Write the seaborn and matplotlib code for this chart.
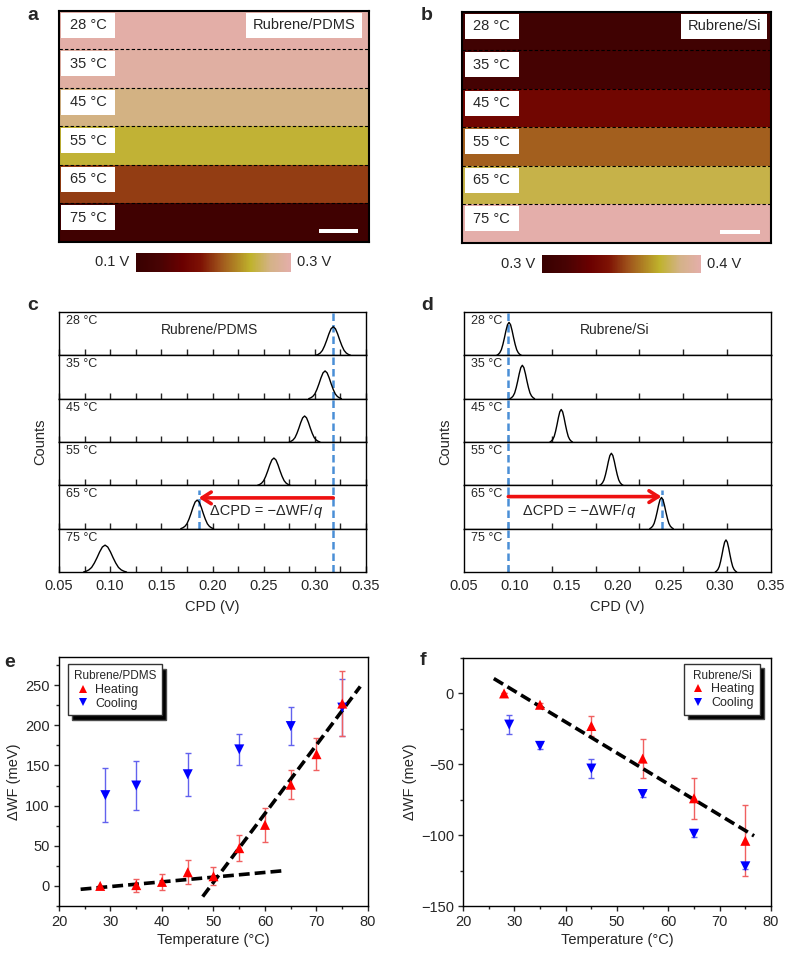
import numpy as np
import pandas as pd
import matplotlib
matplotlib.use('Agg')
import matplotlib.pyplot as plt
import seaborn as sns
from matplotlib.colors import LinearSegmentedColormap, Normalize
from matplotlib.patches import Rectangle
from matplotlib.ticker import MultipleLocator, FixedLocator
import matplotlib.cm as cm

sns.set_theme(style='white')
plt.rcParams['font.family'] = ['Liberation Sans', 'DejaVu Sans']
plt.rcParams['axes.unicode_minus'] = True

# ---------------- data ----------------
temps = ['28 °C', '35 °C', '45 °C', '55 °C', '65 °C', '75 °C']

# surface potential maps (band values, V)
map_a = [0.297, 0.293, 0.272, 0.250, 0.200, 0.115]
map_b = [0.308, 0.312, 0.334, 0.357, 0.378, 0.400]

# CPD histograms
peak_c = [0.318, 0.310, 0.290, 0.260, 0.185, 0.095]
halfw_c = [0.017, 0.016, 0.015, 0.016, 0.016, 0.021]
height_c = [0.66, 0.64, 0.60, 0.63, 0.66, 0.62]
peak_d = [0.094, 0.107, 0.145, 0.194, 0.243, 0.306]
halfw_d = [0.012, 0.012, 0.011, 0.0115, 0.0115, 0.0105]
height_d = [0.76, 0.77, 0.75, 0.74, 0.72, 0.74]
peak_profile = [0.0, 0.03, 0.08, 0.17, 0.33, 0.53, 0.75, 0.93, 1.0,
                0.93, 0.75, 0.53, 0.33, 0.17, 0.08, 0.03, 0.0]
ref_c = [0.318, 0.1865]
ref_d = [0.0933, 0.243]

# work function change, Rubrene/PDMS
heat_T_e = [28, 35, 40, 45, 50, 55, 60, 65, 70, 75]
heat_W_e = [0, 1, 5, 17, 12, 47, 76, 126, 164, 227]
heat_err_e = [0, 8, 10, 15, 11, 16, 21, 18, 20, 40]
cool_T_e = [29, 35, 45, 55, 65, 75]
cool_W_e = [113, 125, 139, 170, 199, 222]
cool_err_e = [34, 31, 27, 19, 24, 35]
fit1_T_e = [24.2, 63.9]
fit1_W_e = [-4.2, 19.1]
fit2_T_e = [47.9, 78.5]
fit2_W_e = [-13.3, 248.3]

# work function change, Rubrene/Si
heat_T_f = [28, 35, 45, 55, 65, 75]
heat_W_f = [0, -8, -23, -46, -74, -104]
heat_err_f = [0, 1.5, 7, 14, 14.5, 25]
cool_T_f = [29, 35, 45, 55, 65, 75]
cool_W_f = [-22, -37, -53, -71, -99, -122]
cool_err_f = [6.5, 2, 7, 2, 2, 2]
fit_T_f = [26.0, 76.7]
fit_W_f = [10.5, -100.5]

# ---------------- figure ----------------
W, H = 788, 955
fig = plt.figure(figsize=(W / 100, H / 100), dpi=100)


def px_axes(x0, y0, x1, y1):
    return fig.add_axes([x0 / W, 1 - y1 / H, (x1 - x0) / W, (y1 - y0) / H])


cmap = LinearSegmentedColormap.from_list('kpfm', [
    (0.00, '#380000'), (0.15, '#480303'), (0.30, '#6a0000'),
    (0.42, '#7e1204'), (0.55, '#a0561c'), (0.74, '#bfb22c'),
    (0.87, '#d4b288'), (1.00, '#e4aeaa')])

BLUE_DASH = '#4a8fd6'


def map_panel(box, vals, vmin, vmax, title, lab_x0, lab_x1, title_x0, title_x1, bar_x0, bar_x1):
    ax = px_axes(*box)
    sns.heatmap(np.array(vals).reshape(-1, 1), ax=ax, cmap=cmap, vmin=vmin, vmax=vmax,
                cbar=False, xticklabels=False, yticklabels=False)
    for s in ax.spines.values():
        s.set_visible(True)
        s.set_color('black')
        s.set_linewidth(1.5)
    for i in range(1, len(vals)):
        ax.axhline(i, color='black', ls=(0, (3, 2)), lw=0.8)
    for i, t in enumerate(temps):
        ax.add_patch(Rectangle((lab_x0, i + 0.04), lab_x1 - lab_x0, 0.66,
                               facecolor='white', edgecolor='none', zorder=3))
        ax.text((lab_x0 + lab_x1) / 2, i + 0.37, t, ha='center', va='center',
                fontsize=10.5, zorder=4)
    ax.add_patch(Rectangle((title_x0, 0.04), title_x1 - title_x0, 0.66,
                           facecolor='white', edgecolor='none', zorder=3))
    ax.text((title_x0 + title_x1) / 2, 0.37, title, ha='center', va='center',
            fontsize=10.5, zorder=4)
    ax.add_patch(Rectangle((bar_x0, 5.66), bar_x1 - bar_x0, 0.11,
                           facecolor='white', edgecolor='none', zorder=3))
    return ax


map_panel((59, 11, 369, 242), map_a, 0.1, 0.3, 'Rubrene/PDMS',
          0.006, 0.181, 0.603, 0.976, 0.84, 0.965)
map_panel((462, 12, 771, 243), map_b, 0.3, 0.4, 'Rubrene/Si',
          0.009, 0.184, 0.71, 0.987, 0.836, 0.966)


def colorbar(box, vmin, vmax, lo, hi):
    cax = px_axes(*box)
    sm = cm.ScalarMappable(norm=Normalize(vmin, vmax), cmap=cmap)
    cb = fig.colorbar(sm, cax=cax, orientation='horizontal')
    cb.set_ticks([])
    cb.outline.set_visible(False)
    yc = 1 - (box[1] + box[3]) / 2 / H
    fig.text((box[0] - 7) / W, yc, lo, ha='right', va='center', fontsize=10.5)
    fig.text((box[2] + 6) / W, yc, hi, ha='left', va='center', fontsize=10.5)


colorbar((136, 253, 291, 272), 0.1, 0.3, '0.1 V', '0.3 V')
colorbar((542, 255, 701, 273), 0.3, 0.4, '0.3 V', '0.4 V')


def hist_panel(x0, x1, peaks, halfw, heights, refs, title, minor_ticks,
               arrow_y, text_x, major_len):
    y0, y1 = 312, 572
    rh = (y1 - y0) / 6
    axes = []
    prof = np.array(peak_profile)
    offs = np.linspace(-1, 1, len(prof))
    for i, t in enumerate(temps):
        ax = px_axes(x0, y0 + i * rh, x1, y0 + (i + 1) * rh)
        df = pd.DataFrame({'CPD': peaks[i] + offs * halfw[i],
                           'Counts': prof * heights[i]})
        sns.lineplot(data=df, x='CPD', y='Counts', ax=ax, color='black', lw=1.0,
                     sort=False, estimator=None)
        ax.set_xlim(0.05, 0.35)
        ax.set_ylim(0, 1)
        ax.set_yticks([])
        ax.set_ylabel('')
        ax.xaxis.set_major_locator(MultipleLocator(0.05))
        ax.xaxis.set_minor_locator(FixedLocator(minor_ticks))
        ax.tick_params(axis='x', which='major', direction='in', length=major_len,
                       width=1, bottom=True, top=False, labelsize=10.5, pad=5,
                       labelbottom=(i == 5))
        ax.tick_params(axis='x', which='minor', direction='in', length=4,
                       width=1, bottom=True, top=False)
        ax.xaxis.set_major_formatter(plt.FuncFormatter(lambda v, p: f'{v:.2f}'))
        for s in ax.spines.values():
            s.set_color('black')
            s.set_linewidth(1.0)
        ax.axvline(refs[0], color=BLUE_DASH, ls=(0, (3, 1.6)), lw=1.8, zorder=1)
        ax.text(0.022, 0.93, t, transform=ax.transAxes, ha='left', va='top', fontsize=9)
        if i == 5:
            ax.set_xlabel('CPD (V)', fontsize=10.5, labelpad=5)
        else:
            ax.set_xlabel('')
        axes.append(ax)
    axes[0].text(0.49, 0.58, title, transform=axes[0].transAxes, ha='center',
                 va='center', fontsize=10)
    a65 = axes[4]
    a65.axvline(refs[1], ymax=0.89, color=BLUE_DASH, ls=(0, (3, 1.6)), lw=1.8, zorder=1)
    a65.annotate('', xy=(refs[1], arrow_y), xytext=(refs[0], arrow_y),
                 arrowprops=dict(arrowstyle='->,head_length=0.55,head_width=0.35',
                                 color='#ee1111', lw=2.6, shrinkA=0, shrinkB=0))
    t1 = a65.text(text_x, 0.40, 'ΔCPD = −ΔWF/', transform=a65.transAxes,
                  ha='left', va='baseline', fontsize=10.5)
    t1.set_va('center')
    a65.annotate('q', xy=(1, 0.5), xycoords=t1, ha='left', va='center',
                 fontsize=10.5, style='italic', xytext=(0.5, 0),
                 textcoords='offset points')
    fig.text((x0 - 19) / W, 1 - (y0 + y1) / 2 / H, 'Counts', rotation=90,
             ha='center', va='center', fontsize=10.5)


hist_panel(59, 366, peak_c, halfw_c, height_c, ref_c, 'Rubrene/PDMS',
           np.arange(0.075, 0.33, 0.025), 0.71, 0.493, 4)
hist_panel(464, 771, peak_d, halfw_d, height_d, ref_d, 'Rubrene/Si',
           np.linspace(0.05, 0.35, 8)[1:-1], 0.74, 0.192, 0)


def wf_panel(box, hT, hW, hE, cT, cW, cE, fits, ylim, ymaj, title, leg_loc, leg_anchor):
    ax = px_axes(*box)
    ax.errorbar(cT, cW, yerr=cE, fmt='none', ecolor='#6262ee', elinewidth=1.0,
                capsize=2.5, capthick=1.0, zorder=2)
    ax.errorbar(hT, hW, yerr=hE, fmt='none', ecolor='#f06060', elinewidth=1.0,
                capsize=2.5, capthick=1.0, zorder=2)
    df = pd.concat([
        pd.DataFrame({'T': hT, 'W': hW, 'mode': 'Heating'}),
        pd.DataFrame({'T': cT, 'W': cW, 'mode': 'Cooling'})])
    for fx, fy in fits:
        sns.lineplot(x=fx, y=fy, ax=ax, color='black', lw=2.6,
                     ls=(0, (3.0, 1.4)), zorder=3)
    sns.scatterplot(data=df.iloc[::-1], x='T', y='W', hue='mode', style='mode',
                    hue_order=['Heating', 'Cooling'], style_order=['Heating', 'Cooling'],
                    markers={'Heating': '^', 'Cooling': 'v'},
                    palette={'Heating': '#ff0000', 'Cooling': '#0000ff'},
                    s=52, linewidth=0, ax=ax, zorder=4)
    ax.set_xlim(20, 80)
    ax.set_ylim(*ylim)
    ax.xaxis.set_major_locator(MultipleLocator(10))
    ax.xaxis.set_minor_locator(MultipleLocator(5))
    ax.yaxis.set_major_locator(MultipleLocator(ymaj))
    ax.yaxis.set_minor_locator(MultipleLocator(ymaj / 2))
    ax.tick_params(which='major', direction='out', length=3.5, width=1,
                   labelsize=10.5, pad=3, left=True, bottom=True)
    ax.tick_params(which='minor', direction='out', length=2, width=1,
                   left=True, bottom=True)
    for s in ax.spines.values():
        s.set_color('black')
        s.set_linewidth(1.0)
    ax.set_xlabel('Temperature (°C)', fontsize=10.5, labelpad=3)
    ax.set_ylabel('ΔWF (meV)', fontsize=10.5, labelpad=3)
    h, l = ax.get_legend_handles_labels()
    order = [l.index('Heating'), l.index('Cooling')]
    leg = ax.legend([h[k] for k in order], [l[k] for k in order], title=title,
                    loc=leg_loc, bbox_to_anchor=leg_anchor, borderaxespad=0,
                    fontsize=9, title_fontsize=8.5, frameon=True, fancybox=False,
                    edgecolor='#333333', framealpha=1,
                    shadow={'ox': 3, 'oy': -3, 'facecolor': 'black', 'alpha': 1},
                    handletextpad=0.3, handlelength=1.4, labelspacing=0.15,
                    borderpad=0.45, markerscale=0.8)
    leg.get_frame().set_linewidth(1.0)
    return ax, leg


ax_e, leg_e = wf_panel((59, 657, 368, 906), heat_T_e, heat_W_e, heat_err_e,
                       cool_T_e, cool_W_e, cool_err_e,
                       [(fit1_T_e, fit1_W_e), (fit2_T_e, fit2_W_e)],
                       (-25, 285), 50, 'Rubrene/PDMS', 'upper left', (0.03, 0.97))
leg_e._legend_box.align = 'left'
ax_f, leg_f = wf_panel((463, 658, 771, 906), heat_T_f, heat_W_f, heat_err_f,
                       cool_T_f, cool_W_f, cool_err_f,
                       [(fit_T_f, fit_W_f)],
                       (-150, 25), 50, 'Rubrene/Si', 'upper right', (0.964, 0.976))

# panel letters
for x, y, s in [(27, 20, 'a'), (421, 20, 'b'), (27, 310, 'c'), (421, 310, 'd'),
                (4, 667, 'e'), (420, 665, 'f')]:
    fig.text(x / W, 1 - y / H, s, fontsize=14, fontweight='bold', ha='left',
             va='baseline')

fig.savefig('out.png', dpi=100)
